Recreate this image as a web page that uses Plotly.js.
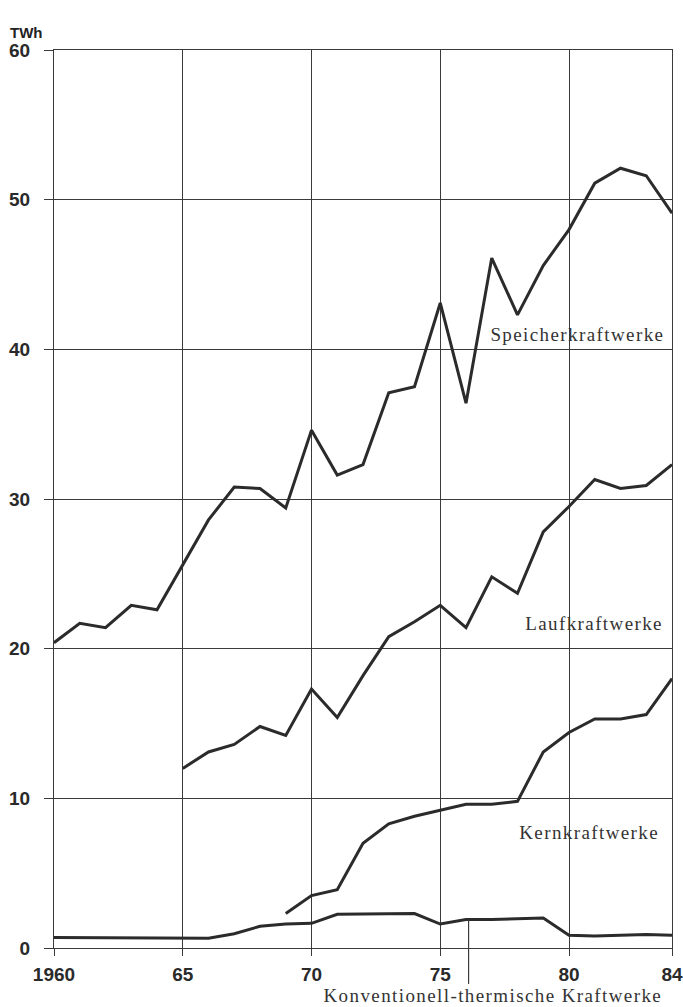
<!DOCTYPE html>
<html>
<head>
<meta charset="utf-8">
<script src="https://cdn.plot.ly/plotly-3.0.1.min.js"></script>
<style>
html,body{margin:0;padding:0;background:#fff;}
#chart{width:683px;height:1007px;}
.annotation-text.serif-lbl{letter-spacing:1.4px;}
</style>
</head>
<body>
<div id="chart"></div>
<script>
const years = [1960,1961,1962,1963,1964,1965,1966,1967,1968,1969,1970,1971,1972,1973,1974,1975,1976,1977,1978,1979,1980,1981,1982,1983,1984];
const speicher = [20.4,21.7,21.4,22.9,22.6,25.6,28.6,30.8,30.7,29.4,34.6,31.6,32.3,37.1,37.5,43.1,36.4,46.1,42.3,45.6,48.0,51.1,52.1,51.6,49.1];
const laufYears = [1965,1966,1967,1968,1969,1970,1971,1972,1973,1974,1975,1976,1977,1978,1979,1980,1981,1982,1983,1984];
const lauf = [12.0,13.1,13.6,14.8,14.2,17.3,15.4,18.2,20.8,21.8,22.9,21.4,24.8,23.7,27.8,29.5,31.3,30.7,30.9,32.3];
const kernYears = [1969,1970,1971,1972,1973,1974,1975,1976,1977,1978,1979,1980,1981,1982,1983,1984];
const kern = [2.3,3.5,3.9,7.0,8.3,8.8,9.2,9.6,9.6,9.8,13.1,14.4,15.3,15.3,15.6,18.0];
const konv = [0.7,0.7,0.7,0.7,0.65,0.65,0.65,0.95,1.45,1.6,1.65,2.25,2.25,2.3,2.3,1.6,1.9,1.9,1.95,2.0,0.85,0.8,0.85,0.9,0.85];
const xTickVals = [1960,1965,1970,1975,1980,1984];
const xTickText = ['1960','65','70','75','80','84'];
const yTickVals = [0,10,20,30,40,50,60];
const labels = ['Speicherkraftwerke','Laufkraftwerke','Kernkraftwerke','Konventionell-thermische Kraftwerke'];
const leaderYear = 1976.1;

const lineStyle = {color:'#2b2b2b', width:3};
const traces = [
  {x:years, y:speicher, mode:'lines', line:lineStyle, name:labels[0]},
  {x:laufYears, y:lauf, mode:'lines', line:lineStyle, name:labels[1]},
  {x:kernYears, y:kern, mode:'lines', line:lineStyle, name:labels[2]},
  {x:years, y:konv, mode:'lines', line:lineStyle, name:labels[3]}
];
const serif = {family:'Liberation Serif, Times New Roman, serif', size:19, color:'#333'};
const tickFont = {family:'Liberation Sans, Arial, sans-serif', size:19, color:'#2a2a2a', weight:'bold'};
const leaderTop = konv[years.indexOf(1976)] / 60;
const layout = {
  width:683, height:1007,
  margin:{l:54, r:11, t:50, b:59},
  paper_bgcolor:'#fff', plot_bgcolor:'#fff',
  showlegend:false,
  xaxis:{range:[1960,1984], tickvals:xTickVals, ticktext:xTickText, showgrid:true, gridcolor:'#3a3a3a', gridwidth:1,
    showline:true, linecolor:'#3a3a3a', linewidth:1, mirror:true, ticks:'outside', ticklen:7, tickcolor:'#3a3a3a',
    tickfont:tickFont, ticklabelstandoff:2, zeroline:false, fixedrange:true},
  yaxis:{range:[0,60], tickvals:yTickVals, showgrid:true, gridcolor:'#3a3a3a', gridwidth:1,
    showline:true, linecolor:'#3a3a3a', linewidth:1, mirror:true, ticks:'outside', ticklen:9, tickcolor:'#3a3a3a',
    tickfont:tickFont, ticklabelstandoff:10, zeroline:false, fixedrange:true},
  annotations:[
    {text:'TWh', xref:'paper', yref:'paper', x:-0.075, y:1.008, xanchor:'left', yanchor:'bottom', showarrow:false,
      font:{family:'Liberation Sans, Arial, sans-serif', size:15, color:'#222', weight:'bold'}},
    {text:labels[0], xref:'x', yref:'y', x:1983.3, y:41.0, xanchor:'right', yanchor:'middle', showarrow:false, font:serif},
    {text:labels[1], xref:'x', yref:'y', x:1983.35, y:21.7, xanchor:'right', yanchor:'middle', showarrow:false, font:serif},
    {text:labels[2], xref:'x', yref:'y', x:1983.2, y:7.7, xanchor:'right', yanchor:'middle', showarrow:false, font:serif},
    {text:labels[3], xref:'x', yref:'paper', x:1982.75, y:-0.053, xanchor:'right', yanchor:'middle', showarrow:false, font:serif}
  ],
  shapes:[
    {type:'line', xref:'x', yref:'paper', x0:leaderYear, x1:leaderYear, y0:-0.04, y1:leaderTop, line:{color:'#3a3a3a', width:1.2}}
  ]
};
Plotly.newPlot('chart', traces, layout, {staticPlot:true}).then(function(){
  document.querySelectorAll('.annotation-text').forEach(function(t){
    if (labels.indexOf(t.textContent) >= 0) t.classList.add('serif-lbl');
  });
});
</script>
</body>
</html>
